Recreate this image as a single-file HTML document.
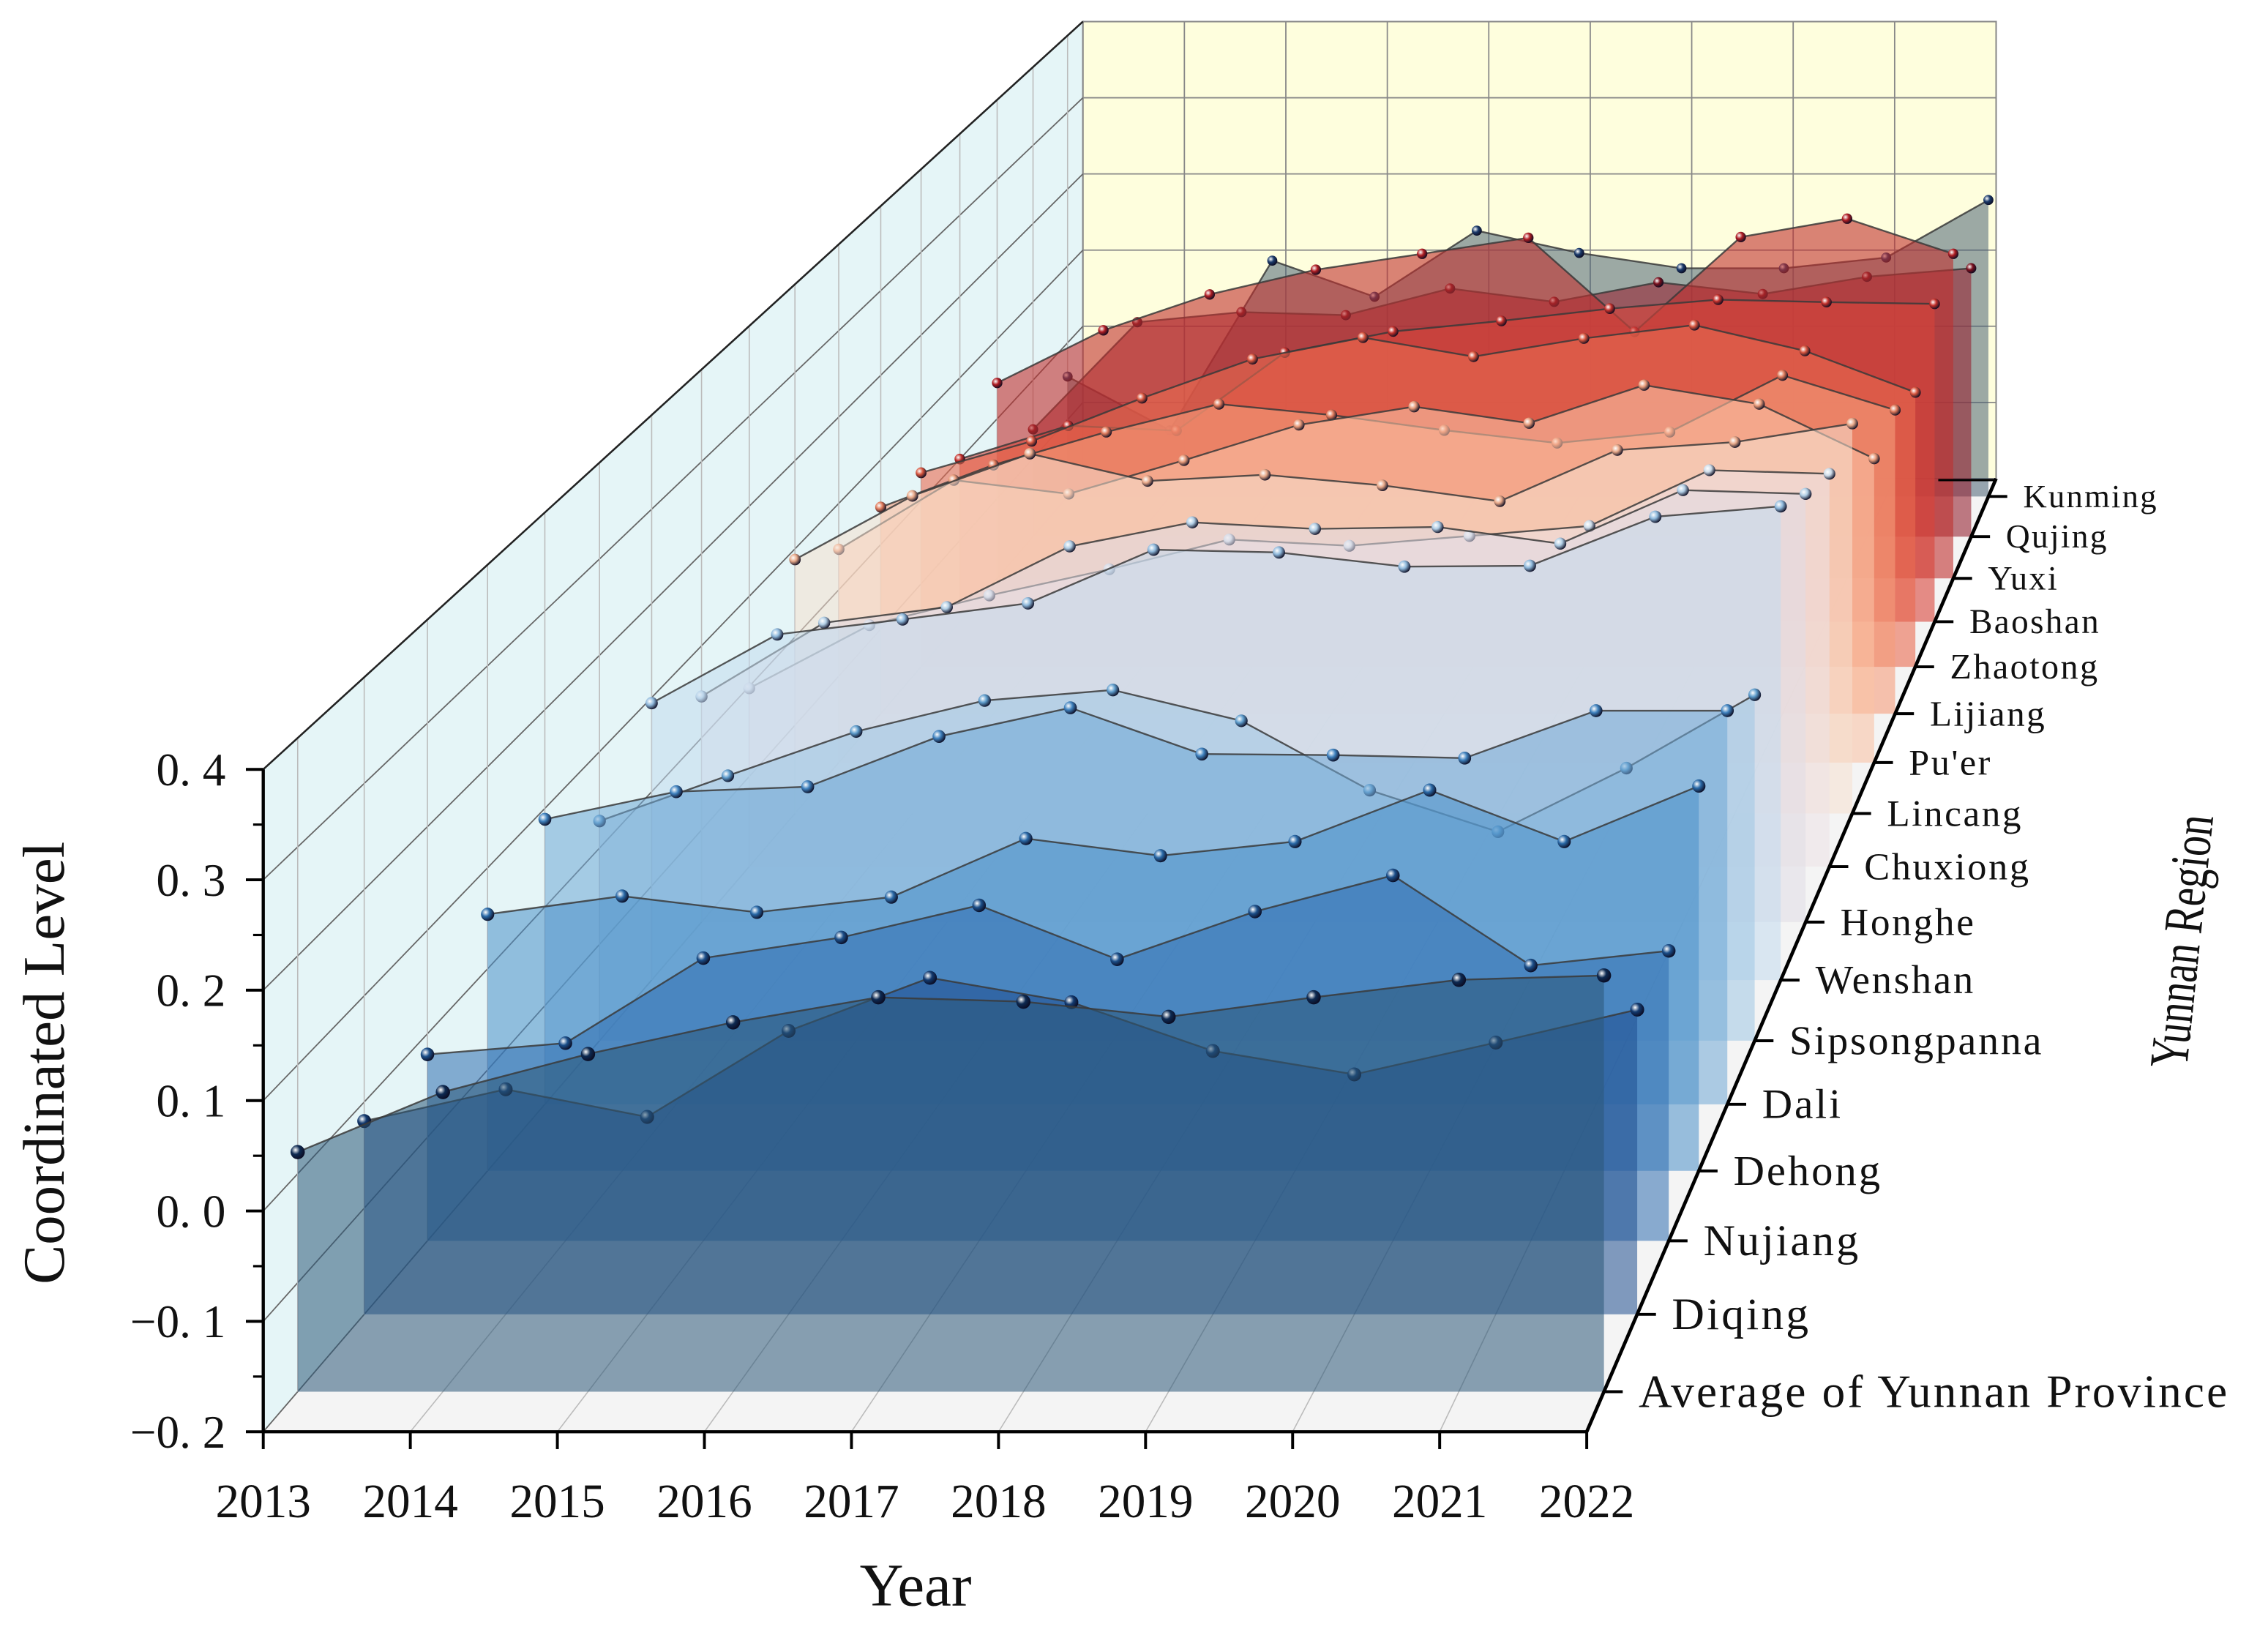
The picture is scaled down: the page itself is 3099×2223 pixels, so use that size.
<!DOCTYPE html>
<html><head><meta charset="utf-8"><title>Coordinated Level - Yunnan Regions</title>
<style>
html,body{margin:0;padding:0;background:#fff;}
svg{display:block;}
text{font-family:"Liberation Serif","Times New Roman",serif;fill:#111;}
</style></head>
<body>
<svg id="chart" xmlns="http://www.w3.org/2000/svg" width="3099" height="2223" viewBox="0 0 1568 1125" preserveAspectRatio="none">
<defs id="defs"></defs>
<rect x="0" y="0" width="1568" height="1125" fill="#ffffff"/>
<g id="walls"></g>
<g id="curtains"></g>
<g id="axes"></g>
<text x="44" y="735" font-size="41" text-anchor="middle" transform="rotate(-90 44 735)">Coordinated Level</text>
<text x="633" y="1110" font-size="42" text-anchor="middle">Year</text>
<text x="1509" y="663" font-size="38" text-anchor="middle" textLength="176" lengthAdjust="spacingAndGlyphs" transform="rotate(-84 1509 651)">Yunnan Region</text>
</svg>
<script>
const years = [2013,2014,2015,2016,2017,2018,2019,2020,2021,2022];
const regions = ["Average of Yunnan Province","Diqing","Nujiang","Dehong","Dali","Sipsongpanna","Wenshan","Honghe","Chuxiong","Lincang","Pu'er","Lijiang","Zhaotong","Baoshan","Yuxi","Qujing","Kunming"];
const yTicks = [-0.2,-0.1,0.0,0.1,0.2,0.3,0.4];
const yTickLabels = ["\u22120. 2","\u22120. 1","0. 0","0. 1","0. 2","0. 3","0. 4"];
const averageVals = [0.020,0.075,0.110,0.139,0.162,0.158,0.144,0.162,0.178,0.182];
const diqingVals = [-0.018,0.012,-0.014,0.067,0.117,0.094,0.048,0.026,0.056,0.087];
const nujiangVals = [-0.020,-0.009,0.073,0.093,0.124,0.072,0.118,0.153,0.066,0.080];
const dehongVals = [0.054,0.072,0.056,0.071,0.129,0.112,0.126,0.177,0.126,0.181];
const daliVals = [0.089,0.117,0.122,0.173,0.202,0.155,0.154,0.151,0.199,0.199];
const sipsongpannaVals = [0.028,0.075,0.121,0.153,0.164,0.132,0.060,0.017,0.083,0.159];
const wenshanVals = [0.094,0.167,0.183,0.200,0.257,0.254,0.239,0.240,0.292,0.303];
const hongheVals = [0.045,0.125,0.142,0.208,0.234,0.227,0.229,0.211,0.269,0.265];
const chuxiongVals = [-0.002,0.068,0.101,0.130,0.163,0.156,0.167,0.178,0.240,0.236];
const lincangVals = [0.088,0.160,0.208,0.177,0.184,0.172,0.154,0.212,0.221,0.242];
const puerVals = [0.047,0.127,0.111,0.150,0.191,0.212,0.193,0.237,0.215,0.152];
const lijiangVals = [0.044,0.094,0.133,0.166,0.153,0.135,0.120,0.133,0.200,0.159];
const zhaotongVals = [0.034,0.072,0.124,0.171,0.197,0.174,0.196,0.212,0.181,0.131];
const baoshanVals = [0.000,0.041,0.035,0.131,0.157,0.170,0.185,0.196,0.193,0.191];
const yuxiVals = [0.045,0.111,0.156,0.187,0.207,0.227,0.109,0.228,0.251,0.207];
const qujingVals = [-0.063,0.074,0.087,0.083,0.117,0.100,0.125,0.110,0.132,0.143];
const kunmingVals = [-0.044,-0.114,0.107,0.060,0.146,0.117,0.097,0.097,0.111,0.186];
const seriesValues = [averageVals,diqingVals,nujiangVals,dehongVals,daliVals,sipsongpannaVals,wenshanVals,hongheVals,chuxiongVals,lincangVals,puerVals,lijiangVals,zhaotongVals,baoshanVals,yuxiVals,qujingVals,kunmingVals];

const fillColors = ["#2b5878","#1f4f8f","#2f6eb0","#4a8fc8","#6fa8d6","#9ec6e4","#c2daee","#e0dde6","#ece2e6","#f5e0d0","#f9c2a6","#f59c7b","#ea6a50","#d8453a","#c0302f","#962434","#4a6275"];
const dotColors = ["#0d2a52","#123a70","#1b4f8a","#2a6aa8","#3f82bf","#5d9ccc","#8fb9dc","#b0cde4","#cddbe8","#e8a888","#e89a78","#e07a5a","#d8553d","#c4302a","#b01c22","#7a0f1c","#1a3a6a"];
const fillOpacity = [0.55,0.55,0.55,0.55,0.55,0.55,0.55,0.55,0.55,0.55,0.58,0.6,0.6,0.6,0.6,0.6,0.55];

const NS = "http://www.w3.org/2000/svg";
const VPX = 2010, VPY = -1136, BACK_S = 0.69;
function mk(tag, attrs, parent){ const e=document.createElementNS(NS,tag); for(const k in attrs) e.setAttribute(k,attrs[k]); parent.appendChild(e); return e; }
function frontX(t){ return 182 + (t-2013)*915/9; }
function frontY(v){ return 990 - (v+0.2)*458/0.6; }
function depthScale(i){ return 1/(1.0132 + 0.0265*i); }
function proj(t, v, s){ return [VPX + (frontX(t)-VPX)*s, VPY + (frontY(v)-VPY)*s]; }

const defs = document.getElementById('defs');
const walls = document.getElementById('walls');
const curtains = document.getElementById('curtains');
const axes = document.getElementById('axes');
const y0 = years[0], y1 = years[years.length-1];
const vMin = yTicks[0], vMax = yTicks[yTicks.length-1];

let p1=proj(y0,vMax,1),p2=proj(y0,vMin,1),p3=proj(y0,vMin,BACK_S),p4=proj(y0,vMax,BACK_S);
let lw = mk('polygon',{points:[p1,p2,p3,p4].map(p=>p.join(',')).join(' '),fill:'#e5f5f7',stroke:'#9aa',"stroke-width":0.8},walls);


p1=proj(y0,vMax,BACK_S);p2=proj(y1,vMax,BACK_S);p3=proj(y1,vMin,BACK_S);p4=proj(y0,vMin,BACK_S);
let bw = mk('polygon',{points:[p1,p2,p3,p4].map(p=>p.join(',')).join(' '),fill:'#fefedd',stroke:'#777',"stroke-width":1},walls);


p1=proj(y0,vMin,1);p2=proj(y1,vMin,1);p3=proj(y1,vMin,BACK_S);p4=proj(y0,vMin,BACK_S);
let fl = mk('polygon',{points:[p1,p2,p3,p4].map(p=>p.join(',')).join(' '),fill:'#f4f4f4',stroke:'none'},walls);


years.forEach(t=>{ const a=proj(t,vMin,BACK_S), b=proj(t,vMax,BACK_S);
  const l=mk('line',{x1:a[0],y1:a[1],x2:b[0],y2:b[1],stroke:'#888',"stroke-width":0.9},walls);
  
  
  const fa=proj(t,vMin,1);
  const l2=mk('line',{x1:fa[0],y1:fa[1],x2:a[0],y2:a[1],stroke:'#bbb',"stroke-width":0.8},walls);
  
  
});
yTicks.forEach(v=>{ const a=proj(y0,v,BACK_S), b=proj(y1,v,BACK_S), f=proj(y0,v,1);
  const l=mk('line',{x1:a[0],y1:a[1],x2:b[0],y2:b[1],stroke:'#888',"stroke-width":0.9},walls);
  
  
  const l2=mk('line',{x1:f[0],y1:f[1],x2:a[0],y2:a[1],stroke:'#666',"stroke-width":0.9},walls);
  
  
});
regions.forEach((r,i)=>{ const s=depthScale(i); const a=proj(y0,vMin,s), b=proj(y0,vMax,s);
  const l=mk('line',{x1:a[0],y1:a[1],x2:b[0],y2:b[1],stroke:'#bbb',"stroke-width":0.8},walls);
  
  
});
let te=mk('line',{x1:182,y1:frontY(vMax),x2:proj(y0,vMax,BACK_S)[0],y2:proj(y0,vMax,BACK_S)[1],stroke:'#222',"stroke-width":1.3},walls);



for(let i=regions.length-1;i>=0;i--){
  const s=depthScale(i), vals=seriesValues[i];
  const g=mk('g',{},curtains);
  
  
  const grad=mk('radialGradient',{id:'dot'+i,cx:'0.35',cy:'0.35',r:'0.7'},defs);
  mk('stop',{offset:'0',"stop-color":'#ffffff'},grad);
  mk('stop',{offset:'0.45',"stop-color":dotColors[i]},grad);
  mk('stop',{offset:'1',"stop-color":'#0a0a20'},grad);
  const pts=vals.map((v,k)=>proj(years[k],v,s));
  const bl=proj(y0,vMin,s), br=proj(y1,vMin,s);
  const poly=mk('polygon',{points:[bl,...pts,br].map(p=>p[0].toFixed(1)+','+p[1].toFixed(1)).join(' '),fill:fillColors[i],"fill-opacity":fillOpacity[i],stroke:'none'},g);
  
  
  const line=mk('polyline',{points:pts.map(p=>p[0].toFixed(1)+','+p[1].toFixed(1)).join(' '),fill:'none',stroke:'#3a3a3a',"stroke-width":1.2,"stroke-opacity":0.85},g);
  
  
  pts.forEach(p=>{ const c=mk('circle',{cx:p[0].toFixed(1),cy:p[1].toFixed(1),r:(5*s).toFixed(2),fill:'url(#dot'+i+')'},g);
    
    
  });
}

let ax=mk('line',{x1:182,y1:990,x2:1097,y2:990,stroke:'#000',"stroke-width":2.2},axes);


let ay=mk('line',{x1:182,y1:frontY(vMin),x2:182,y2:frontY(vMax),stroke:'#000',"stroke-width":2.2},axes);


years.forEach(t=>{ const x=frontX(t);
  const tk=mk('line',{x1:x,y1:990,x2:x,y2:1002,stroke:'#000',"stroke-width":2},axes);
  
  
  const tx=mk('text',{x:x,y:1049,"font-size":33,"text-anchor":'middle'},axes);
  tx.textContent=String(t);
  
  
});
yTicks.forEach((v,k)=>{ const y=frontY(v);
  const tk=mk('line',{x1:170,y1:y,x2:182,y2:y,stroke:'#000',"stroke-width":2},axes);
  
  
  if(k<yTicks.length-1){ const ym=frontY(v+0.05);
    const mt=mk('line',{x1:175,y1:ym,x2:182,y2:ym,stroke:'#000',"stroke-width":1.6},axes);
    
     }
  const tx=mk('text',{x:156,y:y+11,"font-size":32,"text-anchor":'end'},axes);
  tx.textContent=yTickLabels[k];
  
  
});
const da=proj(y1,vMin,1), db=proj(y1,vMin,BACK_S);
let dl=mk('line',{x1:da[0],y1:da[1],x2:db[0],y2:db[1],stroke:'#000',"stroke-width":2.4},axes);


let be=mk('line',{x1:db[0]-40,y1:db[1]+1,x2:db[0],y2:db[1]+1,stroke:'#000',"stroke-width":1.6},axes);


regions.forEach((r,i)=>{ const s=depthScale(i); const p=proj(y1,vMin,s);
  const tk=mk('line',{x1:p[0],y1:p[1],x2:p[0]+13,y2:p[1],stroke:'#000',"stroke-width":2},axes);
  
  
  const k=s/depthScale(0);
  const fs=32*k;
  const tx=mk('text',{x:p[0]+24,y:p[1]+fs*0.33,"font-size":fs.toFixed(1),"letter-spacing":(1.6*k).toFixed(2)},axes);
  tx.textContent=r;
  
  
});
</script>
</body></html>
